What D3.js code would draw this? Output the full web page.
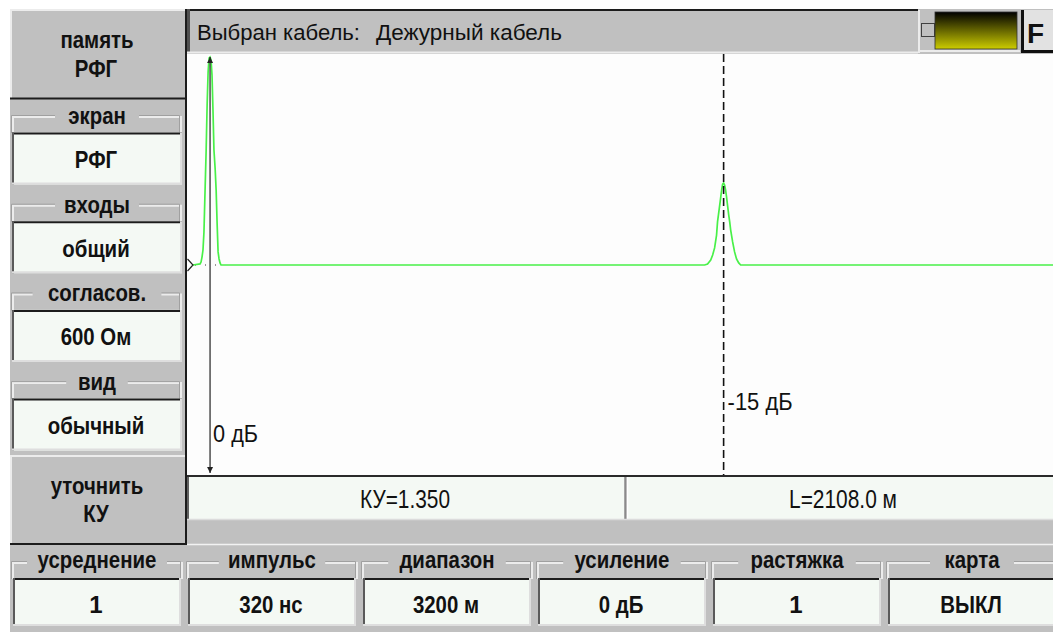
<!DOCTYPE html>
<html>
<head>
<meta charset="utf-8">
<script src="https://cdn.jsdelivr.net/npm/d3@7"></script>
<style>
  body { margin: 0; background: #fff; }
  svg { display: block; }
  text { font-family: 'Liberation Sans', Arial, sans-serif; fill: #111; }
</style>
</head>
<body>
<svg id="chart" width="1053" height="632"></svg>
<script>
// ---- data ----
const headerText = ['Выбран кабель:', 'Дежурный кабель'];
const topButton = ['память', 'РФГ'];
const sideLabels = ['экран', 'входы', 'согласов.', 'вид'];
const sideValues = ['РФГ', 'общий', '600 Ом', 'обычный'];
const lowButton = ['уточнить', 'КУ'];
const bottomLabels = ['усреднение', 'импульс', 'диапазон', 'усиление', 'растяжка', 'карта'];
const bottomValues = ['1', '320 нс', '3200 м', '0 дБ', '1', 'ВЫКЛ'];

// reflectogram trace: distance (m) and relative amplitude
const traceDist = [-70, -41, -37, -33, -29, -25, -21, -16, -12, -8, -4, 0, 4, 8, 12, 16, 21, 25, 29, 33, 37, 41, 45,
  2030, 2042, 2055, 2063, 2071, 2079, 2083, 2092, 2100, 2104, 2108, 2112, 2116, 2120, 2124, 2129, 2133, 2137, 2145, 2153, 2161, 2170, 2178,
  3460];
const traceAmp = [0, 0.005, 0.014, 0.038, 0.072, 0.159, 0.337, 0.553, 0.769, 0.928, 0.995, 1.0, 0.986, 0.913, 0.745, 0.553, 0.46, 0.36, 0.2, 0.063, 0.029, 0.01, 0,
  0, 0.005, 0.024, 0.048, 0.082, 0.144, 0.207, 0.288, 0.361, 0.389, 0.394, 0.385, 0.361, 0.327, 0.288, 0.24, 0.207, 0.168, 0.111, 0.063, 0.029, 0.01, 0,
  0];

const startDist = 0;
const cursorDist = 2108;
const startLabel = '0 дБ';
const cursorLabel = '-15 дБ';
const kuText = 'КУ=1.350';
const lenText = 'L=2108.0 м';

// ---- layout ----
const GRAY = '#c0c0c0', BOX = '#f4f9f4', DARK = '#1c1c1c', LIGHT = '#ececec';
const svg = d3.select('#chart');
const plot = { x0: 187, x1: 1053, y0: 54, y1: 475 };

const x = d3.scaleLinear().domain([-70, 3460]).range([193, 1053]);
const y = d3.scaleLinear().domain([-1, 1]).range([473, 57]);

// the device font is tall and narrow, so bold captions get squeezed
function txt(g, px, py, s, o = {}) {
  const t = g.append('text').attr('x', px).attr('y', py).text(s)
    .attr('font-size', o.size || 24)
    .attr('font-weight', o.weight || 'bold')
    .attr('text-anchor', o.anchor || 'middle');
  let w = o.w;
  if (!w && s.length > 1) w = t.node().getComputedTextLength() * (o.squeeze || 0.85);
  if (w) t.attr('textLength', w).attr('lengthAdjust', 'spacingAndGlyphs');
  return t;
}
function hline(g, x0, x1, yy, c, w) {
  g.append('line').attr('x1', x0).attr('x2', x1).attr('y1', yy).attr('y2', yy).attr('stroke', c).attr('stroke-width', w || 1);
}
function vline(g, xx, y0, y1, c, w) {
  g.append('line').attr('x1', xx).attr('x2', xx).attr('y1', y0).attr('y2', y1).attr('stroke', c).attr('stroke-width', w || 1);
}
// sunken white field
function field(g, x0, y0, w, h) {
  g.append('rect').attr('x', x0).attr('y', y0).attr('width', w).attr('height', h).attr('fill', BOX);
  hline(g, x0, x0 + w, y0 + 1, DARK, 2);
  vline(g, x0 + 1, y0, y0 + h, '#5a5a5a', 2);
  hline(g, x0, x0 + w, y0 + h - 1, '#dedede', 2);
  vline(g, x0 + w - 1, y0, y0 + h, '#dedede', 2);
}
// etched group frame with caption gap
function group(g, x0, x1, ly, bottom, label, cx) {
  const half = label.length * 5.6 + 14;
  g.append('path')
    .attr('d', `M${cx - half},${ly} H${x0} V${bottom} M${cx + half},${ly} H${x1} V${bottom}`)
    .attr('fill', 'none').attr('stroke', LIGHT).attr('stroke-width', 2);
  g.append('path')
    .attr('d', `M${cx - half},${ly - 1.5} H${x0 - 1.5} V${bottom} M${cx + half},${ly - 1.5} H${x1 - 1.5} V${bottom}`)
    .attr('fill', 'none').attr('stroke', '#a0a0a0').attr('stroke-width', 1);
}

svg.append('rect').attr('width', 1053).attr('height', 632).attr('fill', '#fff');
svg.append('rect').attr('x', 10).attr('y', 9).attr('width', 1043).attr('height', 623).attr('fill', GRAY);

// ---- left column ----
const left = svg.append('g');
hline(left, 10, 186, 10, LIGHT, 2);
vline(left, 11, 9, 98, LIGHT, 2);
hline(left, 10, 186, 98.5, DARK, 2);
txt(left, 97, 48, topButton[0]);
txt(left, 96, 77, topButton[1]);

sideLabels.forEach((lab, i) => {
  const top = 99 + 88.7 * i;
  group(left, 13, 181, top + 18, top + 34, lab, 97);
  txt(left, 97, top + 25, lab);
  field(left, 12, top + 33.5, 170, 52);
  txt(left, 96, top + 69, sideValues[i]);
});

const btn = 455;
hline(left, 10, 186, btn + 1, LIGHT, 2);
vline(left, 11, btn, 544, LIGHT, 2);
hline(left, 10, 186, 544, DARK, 2);
txt(left, 97, 494, lowButton[0]);
txt(left, 96, 522, lowButton[1]);
vline(svg, 186, 9, 545, DARK, 2);

// ---- header ----
const head = svg.append('g');
hline(head, 187, 918, 10, DARK, 2);
vline(head, 188.5, 9, 53, '#505050', 3);
hline(head, 187, 918, 52.5, LIGHT, 2);
txt(head, 197, 40, headerText[0], { size: 22, weight: 'normal', anchor: 'start', w: 163 });
txt(head, 376, 40, headerText[1], { size: 22, weight: 'normal', anchor: 'start', w: 186 });

const grad = svg.append('defs').append('linearGradient').attr('id', 'ind').attr('x1', 0).attr('x2', 0).attr('y1', 0).attr('y2', 1);
grad.append('stop').attr('offset', '0%').attr('stop-color', '#000');
grad.append('stop').attr('offset', '100%').attr('stop-color', '#cccc00');
vline(head, 919, 10, 53, LIGHT, 2);
hline(head, 918, 1020, 51, LIGHT, 2);
head.append('rect').attr('x', 921.5).attr('y', 23.5).attr('width', 13).attr('height', 13).attr('fill', 'none').attr('stroke', '#404040');
head.append('rect').attr('x', 935).attr('y', 12).attr('width', 82).attr('height', 37).attr('fill', 'url(#ind)').attr('stroke', '#303030').attr('stroke-width', 0.8);
head.append('rect').attr('x', 1021).attr('y', 10).attr('width', 32).attr('height', 43).attr('fill', '#e2e2e2');
vline(head, 1022.5, 10, 53, '#101010', 3);
hline(head, 1021, 1053, 51.5, '#101010', 3);
txt(head, 1027, 43, 'F', { size: 28, anchor: 'start' });

// ---- plot ----
const pg = svg.append('g');
pg.append('rect').attr('x', plot.x0).attr('y', plot.y0).attr('width', plot.x1 - plot.x0).attr('height', plot.y1 - plot.y0).attr('fill', '#fdfdfd');

pg.append('line').attr('x1', x(-70)).attr('x2', x(50)).attr('y1', y(0)).attr('y2', y(0))
  .attr('stroke', '#333').attr('stroke-dasharray', '1,9').attr('stroke-dashoffset', -2);

const pts = traceDist.map((d, i) => [d, traceAmp[i]]);
pg.append('path').datum(pts)
  .attr('d', d3.line().x(d => x(d[0])).y(d => y(d[1])))
  .attr('fill', 'none').attr('stroke', '#48f048').attr('stroke-width', 1.7);

// start marker triangle
const y0 = y(0);
pg.append('path').attr('d', `M187.5,${y0 - 6} L193,${y0} L187.5,${y0 + 6}`).attr('fill', 'none').attr('stroke', '#222').attr('stroke-width', 1.2);

// start amplitude arrow
const xs = x(startDist);
vline(pg, xs, y(1), y(-1), '#222', 1.2);
pg.append('path').attr('d', `M${xs - 3},${y(1) + 6} L${xs},${y(1)} L${xs + 3},${y(1) + 6}Z`).attr('fill', '#222');
pg.append('path').attr('d', `M${xs - 3},${y(-1) - 6} L${xs},${y(-1)} L${xs + 3},${y(-1) - 6}Z`).attr('fill', '#222');
txt(pg, xs + 3, 442, startLabel, { size: 24, weight: 'normal', anchor: 'start', w: 45 });

// cursor
const xc = x(cursorDist);
pg.append('line').attr('x1', xc).attr('x2', xc).attr('y1', plot.y0).attr('y2', plot.y1)
  .attr('stroke', '#111').attr('stroke-width', 1.6).attr('stroke-dasharray', '8,4');
txt(pg, xc + 4, 410, cursorLabel, { size: 23, weight: 'normal', anchor: 'start', w: 65 });

// ---- info bar ----
const info = svg.append('g');
hline(info, 187, 1053, 476, '#2a2a2a', 2);
info.append('rect').attr('x', 187).attr('y', 477).attr('width', 437).attr('height', 42).attr('fill', BOX);
info.append('rect').attr('x', 628).attr('y', 477).attr('width', 425).attr('height', 42).attr('fill', BOX);
vline(info, 188, 477, 519, '#606060', 2);
vline(info, 625.5, 477, 519, '#8a8a8a', 2);
vline(info, 627.5, 477, 519, '#ffffff', 1.5);
hline(info, 187, 1053, 519.5, '#dcdcdc', 1.5);
txt(info, 405, 508, kuText, { size: 25, weight: 'normal', w: 90 });
txt(info, 843, 508, lenText, { size: 25, weight: 'normal', w: 108 });
hline(info, 187, 1053, 544.5, '#f2f2f2', 1.5);

// ---- bottom row ----
const bot = svg.append('g');
bottomLabels.forEach((lab, i) => {
  const lx = 10 + 175 * i;
  const cx = lx + 87;
  group(bot, lx + 3, lx + 172, 563, 579, lab, cx);
  txt(bot, cx, 568, lab);
  field(bot, lx + 3, 578, 168, 48);
  txt(bot, cx - 1, 613, bottomValues[i]);
});
</script>
</body>
</html>
